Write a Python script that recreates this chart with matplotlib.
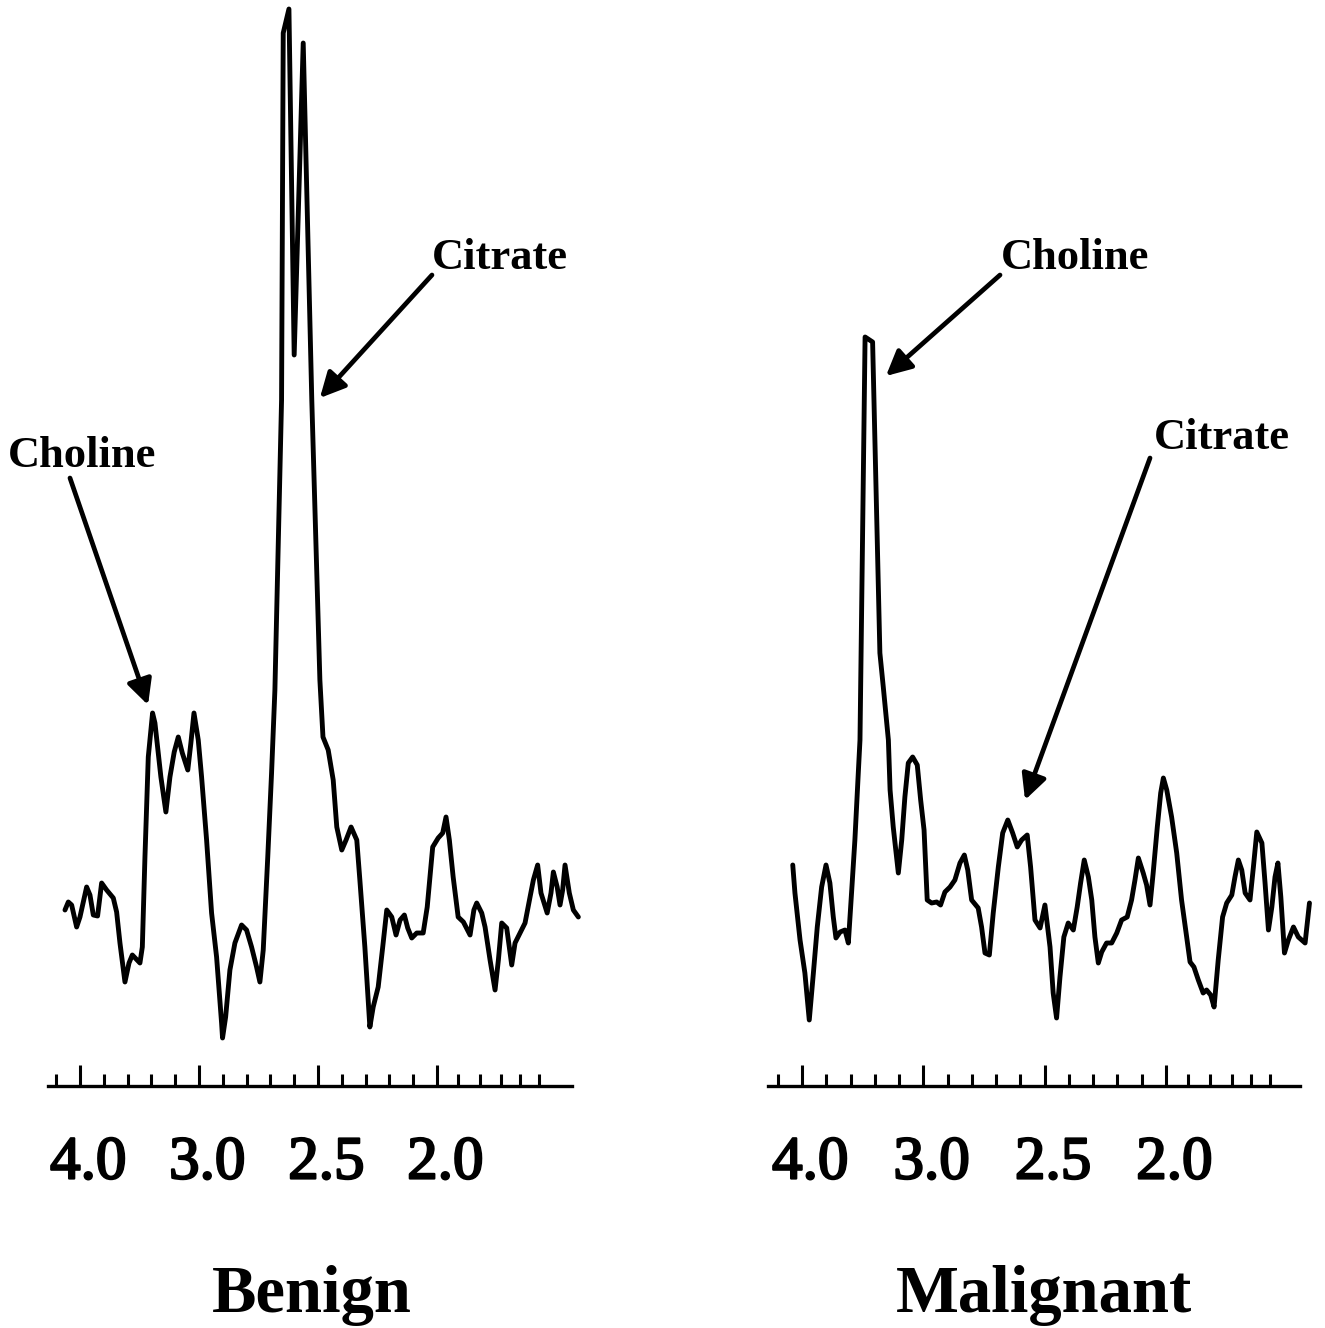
import numpy as np
import matplotlib.pyplot as plt
import matplotlib.patheffects as pe
from matplotlib.transforms import ScaledTranslation

# chemical shift (ppm) and signal height (arbitrary units)
benign_ppm = [3.563, 3.549, 3.535, 3.514, 3.500, 3.472, 3.458, 3.444, 3.426, 3.409,
              3.388, 3.360, 3.346, 3.332, 3.311, 3.294, 3.280, 3.248, 3.238, 3.227,
              3.213, 3.195, 3.185, 3.160, 3.139, 3.122, 3.104, 3.087, 3.070, 3.047,
              3.034, 3.021, 3.003, 2.989, 2.968, 2.947, 2.926, 2.905, 2.901, 2.888,
              2.870, 2.849, 2.821, 2.800, 2.779, 2.758, 2.744, 2.730, 2.711, 2.695,
              2.681, 2.653, 2.646, 2.622, 2.600, 2.562, 2.526, 2.492, 2.479, 2.457,
              2.436, 2.421, 2.400, 2.382, 2.361, 2.337, 2.324, 2.303, 2.282, 2.268,
              2.247, 2.228, 2.211, 2.190, 2.172, 2.155, 2.137, 2.123, 2.106, 2.085,
              2.058, 2.041, 2.018, 1.995, 1.976, 1.962, 1.948, 1.932, 1.911, 1.889,
              1.861, 1.845, 1.833, 1.812, 1.798, 1.777, 1.756, 1.742, 1.728, 1.707,
              1.686, 1.672, 1.651, 1.630, 1.609, 1.595, 1.577, 1.563, 1.537, 1.521,
              1.511, 1.495, 1.483, 1.472, 1.462, 1.444, 1.427, 1.406]
benign_int = [176, 184, 181, 159, 169, 199, 191, 171, 170, 203,
              196, 188, 174, 143, 104, 123, 131, 123, 139, 229,
              329, 373, 363, 309, 274, 309, 334, 349, 333, 316,
              343, 373, 346, 309, 246, 173, 129, 63, 48, 69,
              116, 143, 161, 156, 139, 119, 104, 136, 229, 313,
              396, 686, 1053, 1077, 731, 1043, 686, 406, 349, 336,
              306, 259, 236, 246, 259, 246, 206, 139, 59, 79,
              99, 139, 176, 169, 151, 166, 171, 158, 148, 153,
              153, 179, 239, 248, 253, 269, 246, 209, 169, 164,
              151, 176, 183, 173, 159, 126, 96, 126, 163, 158,
              121, 143, 153, 163, 189, 206, 221, 193, 173, 193,
              214, 199, 181, 196, 221, 193, 176, 169]

malignant_ppm = [3.538, 3.529, 3.508, 3.488, 3.470, 3.453, 3.437, 3.419, 3.401, 3.385,
                 3.371, 3.360, 3.343, 3.323, 3.309, 3.295, 3.282, 3.268, 3.261, 3.240,
                 3.209, 3.179, 3.165, 3.144, 3.137, 3.124, 3.103, 3.089, 3.076, 3.062,
                 3.044, 3.025, 3.011, 2.997, 2.984, 2.966, 2.945, 2.929, 2.911, 2.890,
                 2.870, 2.849, 2.831, 2.817, 2.801, 2.774, 2.760, 2.746, 2.728, 2.712,
                 2.691, 2.673, 2.652, 2.632, 2.613, 2.595, 2.572, 2.558, 2.540, 2.519,
                 2.499, 2.478, 2.465, 2.451, 2.437, 2.421, 2.403, 2.382, 2.366, 2.352,
                 2.337, 2.320, 2.306, 2.293, 2.279, 2.265, 2.245, 2.224, 2.203, 2.183,
                 2.160, 2.142, 2.128, 2.114, 2.094, 2.080, 2.066, 2.053, 2.036, 2.022,
                 2.011, 1.997, 1.977, 1.956, 1.936, 1.915, 1.901, 1.885, 1.867, 1.847,
                 1.833, 1.816, 1.802, 1.785, 1.767, 1.750, 1.729, 1.716, 1.702, 1.688,
                 1.674, 1.654, 1.640, 1.626, 1.605, 1.592, 1.578, 1.564, 1.551, 1.539,
                 1.527, 1.512, 1.496, 1.475, 1.455, 1.427, 1.409]
malignant_int = [221, 193, 146, 113, 66, 113, 159, 199, 221, 203,
                 169, 148, 154, 156, 143, 196, 246, 313, 346, 749,
                 744, 433, 399, 346, 296, 259, 213, 246, 289, 323,
                 329, 321, 286, 256, 186, 183, 184, 181, 194, 199,
                 206, 223, 231, 216, 186, 178, 159, 133, 131, 173,
                 219, 253, 266, 253, 239, 246, 251, 219, 166, 158,
                 181, 139, 93, 68, 109, 149, 163, 156, 179, 203,
                 226, 209, 186, 149, 123, 134, 143, 143, 153, 166,
                 169, 186, 206, 228, 213, 201, 181, 213, 259, 293,
                 308, 296, 269, 233, 186, 149, 124, 119, 106, 93,
                 96, 91, 79, 126, 169, 183, 191, 209, 226, 216,
                 193, 186, 219, 254, 243, 203, 156, 179, 209, 223,
                 189, 133, 146, 159, 149, 143, 183]

major_ticks = [3.5, 3.0, 2.5, 2.0]
major_labels = ['4.0', '3.0', '2.5', '2.0']
minor_ticks = [3.6, 3.4, 3.3, 3.2, 3.1, 2.9, 2.8, 2.7, 2.6, 2.4, 2.3, 2.2, 2.1,
               1.91, 1.82, 1.73, 1.65, 1.57]

plt.rcParams['font.family'] = ['Liberation Serif', 'DejaVu Serif']

fig = plt.figure(figsize=(13.25, 13.28), dpi=100)
W, H = 1325, 1328
base = 1086  # pixel row of the axis line


def panel(px0, px1, ppm0, ppm1, line_span, ppm, inten, notes):
    ax = fig.add_axes([px0 / W, (H - base) / H, (px1 - px0) / W, base / H])
    ax.set_xlim(ppm0, ppm1)
    ax.set_ylim(0, base)
    ax.plot(ppm, inten, color='black', lw=3.5, solid_joinstyle='round',
            solid_capstyle='round')
    for s in ['top', 'left', 'right']:
        ax.spines[s].set_visible(False)
    ax.spines['bottom'].set_bounds(*line_span)
    ax.spines['bottom'].set_linewidth(2.4)
    ax.set_yticks([])
    ax.set_xticks(major_ticks)
    ax.set_xticklabels(major_labels)
    ax.set_xticks(minor_ticks, minor=True)
    ax.tick_params(axis='x', which='major', direction='in', length=15, width=2.2,
                   pad=36, labelsize=44)
    ax.tick_params(axis='x', which='minor', direction='in', length=8.5, width=2.2)
    for lab in ax.get_xticklabels():
        lab.set_transform(lab.get_transform() + ScaledTranslation(6 / 72, 0, fig.dpi_scale_trans))
        lab.set_path_effects([pe.withStroke(linewidth=1.6, foreground='black')])
    ax.patch.set_visible(False)
    for name, txy, start, tip in notes:
        ax.text(txy[0], txy[1], name, ha='center', va='center', fontsize=32,
                fontweight='bold', clip_on=False)
        ax.annotate('', xy=tip, xytext=start, annotation_clip=False,
                    arrowprops=dict(arrowstyle='-|>', lw=3.4, color='black',
                                    mutation_scale=38, shrinkA=0, shrinkB=0))
    return ax


panel(0, 640, 3.836, 1.147, (3.634, 1.433), benign_ppm, benign_int,
      [('Choline', (3.492, 630), (3.542, 608), (3.214, 381)),
       ('Citrate', (1.735, 828), (2.021, 811), (2.492, 688))])
panel(660, 1325, 4.085, 1.345, (3.640, 1.448), malignant_ppm, malignant_int,
      [('Choline', (2.375, 828), (2.684, 811), (3.154, 710)),
       ('Citrate', (1.769, 648), (2.066, 628), (2.581, 286))])

fig.text(312 / W, 1 - 1312 / H, 'Benign', ha='center', va='baseline',
         fontsize=48, fontweight='bold')
fig.text(1044 / W, 1 - 1312 / H, 'Malignant', ha='center', va='baseline',
         fontsize=48, fontweight='bold')

fig.savefig('out.png', dpi=100, facecolor='white')
